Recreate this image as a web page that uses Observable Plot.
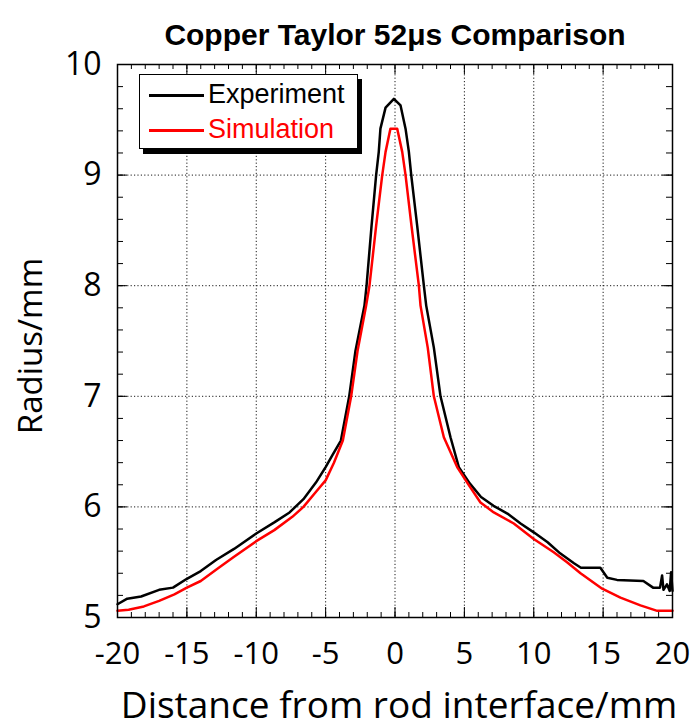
<!DOCTYPE html>
<html>
<head>
<meta charset="utf-8">
<script src="https://cdn.jsdelivr.net/npm/d3@7"></script>
<script src="https://cdn.jsdelivr.net/npm/@observablehq/plot@0.6"></script>
<style>
  html, body { margin: 0; padding: 0; background: #fff; }
  #wrap { position: relative; width: 692px; height: 727px; }
  #legend { position: absolute; left: 139px; top: 74px; width: 217px; height: 73px;
    border: 1.5px solid #000; background: #fff; box-shadow: 4px 5px 0 #000;
    font-family: "Liberation Sans", Arial, sans-serif; font-size: 27px; }
  .item { position: absolute; left: 0; height: 30px; }
  .sw { position: absolute; left: 9px; width: 55px; height: 2.5px; }
  .lab { position: absolute; left: 68px; white-space: nowrap; line-height: 1; }
</style>
</head>
<body>
<div id="wrap"></div>
<script>
const titleText = "Copper Taylor 52\u03bcs Comparison";
const xLabel = "Distance from rod interface/mm";
const yLabel = "Radius/mm";
const seriesNames = ["Experiment", "Simulation"];
const seriesColors = ["#000000", "#ff0000"];

const xTicks = [-20, -15, -10, -5, 0, 5, 10, 15, 20];
const yTicks = [5, 6, 7, 8, 9, 10];
const xMinor = d3.range(-20, 20.01, 1);
const yMinor = d3.range(5, 10.001, 0.2);

const expX = [-20, -19.3, -18.3, -17, -16, -15, -14, -12.9, -11.6, -10, -8.7, -7.6, -6.6, -5.7, -5, -4.5, -3.9, -3.3, -2.85, -2.2, -2.05, -1.69, -1.36, -1.17, -1.05, -0.68, -0.08, 0.4, 0.76, 1.0, 1.17, 1.6, 2.08, 2.25, 2.8, 3.28, 4.0, 4.6, 5.4, 6.2, 7.1, 8.1, 9.05, 10, 11, 11.9, 12.9, 13.4, 14.8, 15.3, 16, 17.9, 18.6, 19.1, 19.25, 19.35, 19.6, 19.8, 19.9, 20];
const expY = [5.12, 5.17, 5.19, 5.25, 5.27, 5.35, 5.42, 5.52, 5.62, 5.76, 5.86, 5.95, 6.07, 6.22, 6.36, 6.47, 6.6, 7.0, 7.41, 7.82, 8.0, 8.54, 9.0, 9.21, 9.42, 9.61, 9.69, 9.63, 9.42, 9.21, 9.0, 8.54, 8.0, 7.82, 7.44, 7.0, 6.63, 6.36, 6.21, 6.09, 6.01, 5.94, 5.85, 5.77, 5.68, 5.58, 5.49, 5.45, 5.45, 5.36, 5.34, 5.33, 5.27, 5.27, 5.38, 5.25, 5.3, 5.24, 5.41, 5.24];

const simX = [-20, -19.2, -18.1, -17, -15.9, -15, -14, -12.8, -11.6, -10, -8.7, -7.4, -6.6, -5.6, -5, -4.4, -3.76, -3.16, -2.7, -2.08, -1.84, -1.36, -0.92, -0.68, -0.33, 0.16, 0.52, 0.76, 1.19, 1.72, 1.84, 2.36, 2.8, 3.52, 4.48, 5.25, 6.16, 7.12, 8.56, 10, 11.44, 12.4, 13.37, 14.93, 16.25, 17.69, 18.9, 20];
const simY = [5.06, 5.07, 5.10, 5.15, 5.21, 5.27, 5.33, 5.44, 5.55, 5.69, 5.79, 5.91, 6.0, 6.15, 6.24, 6.4, 6.6, 7.0, 7.41, 7.82, 8.0, 8.54, 9.0, 9.21, 9.42, 9.42, 9.21, 9.0, 8.54, 8.0, 7.82, 7.44, 7.0, 6.63, 6.36, 6.21, 6.04, 5.95, 5.85, 5.71, 5.59, 5.5, 5.4, 5.26, 5.18, 5.11, 5.06, 5.06];

const exp = expX.map((x, i) => ({x, y: expY[i]}));
const sim = simX.map((x, i) => ({x, y: simY[i]}));

const H = 727, mt = 64, mb = 110;
const fh = H - mt - mb;
const fw = 692 - 117 - 20;

const chart = Plot.plot({
  width: 692,
  height: H,
  marginTop: mt,
  marginBottom: mb,
  marginLeft: 117,
  marginRight: 20,
  style: {fontFamily: "Open Sans, sans-serif", background: "#fff", color: "#000"},
  x: {domain: [-20, 20]},
  y: {domain: [5, 10]},
  marks: [
    Plot.gridX(xTicks, {stroke: "#000", strokeOpacity: 0.9, strokeWidth: 1, strokeDasharray: "1.2,2.2"}),
    Plot.gridY(yTicks, {stroke: "#000", strokeOpacity: 0.9, strokeWidth: 1, strokeDasharray: "1.2,2.2"}),
    Plot.tickX(xMinor, {x: d => d, insetTop: fh - 5, stroke: "#000", strokeWidth: 1}),
    Plot.tickX(xMinor, {x: d => d, insetBottom: fh - 5, stroke: "#000", strokeWidth: 1}),
    Plot.tickX(xTicks, {x: d => d, insetTop: fh - 10, stroke: "#000", strokeWidth: 1}),
    Plot.tickX(xTicks, {x: d => d, insetBottom: fh - 10, stroke: "#000", strokeWidth: 1}),
    Plot.tickY(yMinor, {y: d => d, insetRight: fw - 6, stroke: "#000", strokeWidth: 1}),
    Plot.tickY(yMinor, {y: d => d, insetLeft: fw - 6, stroke: "#000", strokeWidth: 1}),
    Plot.tickY(yTicks, {y: d => d, insetRight: fw - 10, stroke: "#000", strokeWidth: 1}),
    Plot.tickY(yTicks, {y: d => d, insetLeft: fw - 10, stroke: "#000", strokeWidth: 1}),
    Plot.axisX({ticks: xTicks, tickSize: 0, tickPadding: 24, fontSize: 31, label: null, tickFormat: d => String(d)}),
    Plot.axisY({ticks: yTicks, tickSize: 0, tickPadding: 16, fontSize: 32, label: null, tickFormat: d => String(d)}),
    Plot.line(exp, {x: "x", y: "y", stroke: seriesColors[0], strokeWidth: 2.5}),
    Plot.line(sim, {x: "x", y: "y", stroke: seriesColors[1], strokeWidth: 2.5}),
    Plot.frame({stroke: "#000", strokeWidth: 1.5}),
    Plot.text([titleText], {frameAnchor: "top", dy: -41, fontSize: 30, fontWeight: "bold", fontFamily: "Liberation Sans, Arial, sans-serif", fill: "#000"}),
    Plot.text([xLabel], {frameAnchor: "bottom", dx: 4, dy: 100, fontSize: 37, fill: "#000"}),
    Plot.text([yLabel], {frameAnchor: "left", textAnchor: "middle", dx: -86, dy: 5, rotate: -90, fontSize: 33, fill: "#000"})
  ]
});

const wrap = document.getElementById("wrap");
wrap.appendChild(chart);

const legend = document.createElement("div");
legend.id = "legend";
seriesNames.forEach((name, i) => {
  const item = document.createElement("div");
  item.className = "item";
  item.style.top = (i === 0 ? 5 : 40) + "px";
  const sw = document.createElement("div");
  sw.className = "sw";
  sw.style.background = seriesColors[i];
  sw.style.top = "14px";
  const lab = document.createElement("div");
  lab.className = "lab";
  lab.style.color = seriesColors[i];
  lab.style.top = "1px";
  lab.textContent = name;
  item.appendChild(sw);
  item.appendChild(lab);
  legend.appendChild(item);
});
wrap.appendChild(legend);
</script>
</body>
</html>
